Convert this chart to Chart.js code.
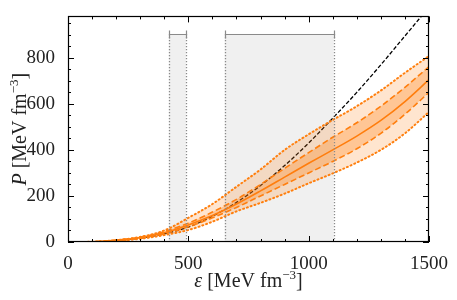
<!DOCTYPE html>
<html lang="en">
  <head>
    <meta charset="UTF-8" />
    <title>Pressure vs energy density</title>
    <script src="https://cdn.jsdelivr.net/npm/chart.js"></script>
    <style>
      body {
        margin: 0;
        background: #fff;
      }
      #wrap {
        width: 457px;
        height: 300px;
      }
    </style>
  </head>
  <body>
    <div id="wrap"><canvas id="eosChart" width="457" height="300"></canvas></div>

    <script>
      // energy density grid (MeV fm^-3)
      const energy = [0, 100, 200, 300, 400, 500, 600, 700, 800, 900, 1000, 1100, 1200, 1300, 1400, 1500];
      // pressure bands (MeV fm^-3)
      const upper95 = [0, 1, 8, 22, 50, 105, 165, 240, 315, 400, 468, 530, 590, 658, 735, 808];
      const upper68 = [0, 1, 8, 21, 45, 82, 130, 185, 250, 320, 388, 455, 518, 590, 672, 762];
      const median = [0, 1, 7, 19, 40, 74, 115, 165, 222, 282, 342, 400, 460, 528, 610, 705];
      const lower68 = [0, 1, 6, 17, 36, 66, 105, 150, 200, 250, 300, 350, 405, 472, 555, 650];
      const lower95 = [0, 0, 5, 14, 30, 52, 88, 133, 170, 210, 255, 298, 345, 400, 472, 565];
      // black dashed reference curve
      const blackCurve = [0, 0.5, 6, 17, 35, 65, 112, 172, 245, 332, 430, 538, 650, 770, 895, 1020];

      // shaded energy ranges with the bar on top
      const rangeStart = [419, 651];
      const rangeEnd = [490, 1104];
      const rangeTop = 904;

      const xTicks = [0, 500, 1000, 1500];
      const yTicks = [0, 200, 400, 600, 800];
      const xMinorStep = 100;
      const yMinorStep = 50;

      // axis titles: [text, style] pieces, "i" italic, "s" superscript
      const xTitle = [["ε", "i"], [" [MeV fm", ""], ["−3", "s"], ["]", ""]];
      const yTitle = [["P", "i"], [" [MeV fm", ""], ["−3", "s"], ["]", ""]];

      const orange = "#ff7f0e";
      const serif = "'Liberation Serif', 'DejaVu Serif', serif";

      const pts = (arr) => energy.map((e, i) => ({ x: e, y: arr[i] }));

      const rangesPlugin = {
        id: "ranges",
        beforeDatasetsDraw(chart) {
          const { ctx, scales } = chart;
          const { x, y } = scales;
          ctx.save();
          ctx.fillStyle = "#f0f0f0";
          rangeStart.forEach((s, i) => {
            const x0 = x.getPixelForValue(s);
            const x1 = x.getPixelForValue(rangeEnd[i]);
            const yt = y.getPixelForValue(rangeTop);
            const yb = y.getPixelForValue(0);
            ctx.fillRect(x0, yt, x1 - x0, yb - yt);
          });
          ctx.restore();
        },
        afterDatasetsDraw(chart) {
          const { ctx, scales } = chart;
          const { x, y } = scales;
          const yt = y.getPixelForValue(rangeTop);
          const yb = y.getPixelForValue(0);
          ctx.save();
          ctx.strokeStyle = "#8a8a8a";
          ctx.lineWidth = 1.3;
          ctx.setLineDash([1.3, 1.7]);
          rangeStart.forEach((s, i) => {
            [s, rangeEnd[i]].forEach((v) => {
              const px = Math.round(x.getPixelForValue(v)) + 0.5;
              ctx.beginPath();
              ctx.moveTo(px, yt);
              ctx.lineTo(px, yb);
              ctx.stroke();
            });
          });
          ctx.setLineDash([]);
          ctx.lineWidth = 1.2;
          const yy = Math.round(yt) + 0.5;
          rangeStart.forEach((s, i) => {
            const x0 = Math.round(x.getPixelForValue(s)) + 0.5;
            const x1 = Math.round(x.getPixelForValue(rangeEnd[i])) + 0.5;
            ctx.beginPath();
            ctx.moveTo(x0, yy);
            ctx.lineTo(x1, yy);
            ctx.moveTo(x0, yy - 4);
            ctx.lineTo(x0, yy + 4);
            ctx.moveTo(x1, yy - 4);
            ctx.lineTo(x1, yy + 4);
            ctx.stroke();
          });
          ctx.restore();
        },
      };

      function drawTitle(ctx, pieces, cx, baseline) {
        const fontOf = (st) =>
          st === "i" ? "italic 20px " + serif : st === "s" ? "13px " + serif : "20px " + serif;
        let total = 0;
        pieces.forEach(([t, st]) => {
          ctx.font = fontOf(st);
          total += ctx.measureText(t).width;
        });
        let px = cx - total / 2;
        pieces.forEach(([t, st]) => {
          ctx.font = fontOf(st);
          ctx.fillText(t, px, st === "s" ? baseline - 8 : baseline);
          px += ctx.measureText(t).width;
        });
      }

      const framePlugin = {
        id: "frame",
        afterDraw(chart) {
          const { ctx, chartArea: a, scales } = chart;
          const { x, y } = scales;
          ctx.save();
          ctx.strokeStyle = "#000";
          ctx.lineWidth = 1;
          const seg = (x0, y0, x1, y1) => {
            ctx.beginPath();
            ctx.moveTo(x0, y0);
            ctx.lineTo(x1, y1);
            ctx.stroke();
          };
          for (let v = x.min; v <= x.max; v += xMinorStep) {
            const px = Math.round(x.getPixelForValue(v)) + 0.5;
            const len = xTicks.includes(v) ? 6 : 3;
            seg(px, a.bottom, px, a.bottom - len);
            seg(px, a.top, px, a.top + len);
          }
          for (let v = y.min; v <= y.max; v += yMinorStep) {
            const py = Math.round(y.getPixelForValue(v)) + 0.5;
            const len = yTicks.includes(v) ? 6 : 3;
            seg(a.left, py, a.left + len, py);
            seg(a.right, py, a.right - len, py);
          }
          ctx.lineWidth = 1.2;
          ctx.strokeRect(
            Math.round(a.left) + 0.5,
            Math.round(a.top) + 0.5,
            Math.round(a.right - a.left) - 1,
            Math.round(a.bottom - a.top) - 1
          );

          // axis titles
          ctx.fillStyle = "#222";
          ctx.textAlign = "left";
          ctx.textBaseline = "alphabetic";
          drawTitle(ctx, xTitle, (a.left + a.right) / 2, 287);
          ctx.translate(26, (a.top + a.bottom) / 2);
          ctx.rotate(-Math.PI / 2);
          drawTitle(ctx, yTitle, 0, 0);
          ctx.restore();
        },
      };

      const ctx = document.getElementById("eosChart").getContext("2d");
      new Chart(ctx, {
        type: "line",
        data: {
          datasets: [
            {
              label: "95% lower",
              data: pts(lower95),
              borderColor: orange,
              borderWidth: 2,
              borderDash: [1, 3],
              borderCapStyle: "round",
              fill: false,
            },
            {
              label: "95% upper",
              data: pts(upper95),
              borderColor: orange,
              borderWidth: 2,
              borderDash: [1, 3],
              borderCapStyle: "round",
              backgroundColor: "rgba(255,127,14,0.2)",
              fill: "-1",
            },
            {
              label: "68% lower",
              data: pts(lower68),
              borderColor: orange,
              borderWidth: 1.6,
              borderDash: [6, 3],
              fill: false,
            },
            {
              label: "68% upper",
              data: pts(upper68),
              borderColor: orange,
              borderWidth: 1.6,
              borderDash: [6, 3],
              backgroundColor: "rgba(255,127,14,0.3)",
              fill: "-1",
            },
            {
              label: "median",
              data: pts(median),
              borderColor: orange,
              borderWidth: 1.6,
              fill: false,
            },
            {
              label: "reference",
              data: pts(blackCurve),
              borderColor: "#000",
              borderWidth: 1.3,
              borderDash: [4, 2],
              fill: false,
            },
          ],
        },
        options: {
          responsive: false,
          animation: false,
          layout: { padding: { top: 8, right: 28, left: 0, bottom: 0 } },
          elements: {
            point: { radius: 0 },
            line: { cubicInterpolationMode: "monotone" },
          },
          plugins: {
            legend: { display: false },
            tooltip: { enabled: false },
          },
          scales: {
            x: {
              type: "linear",
              min: 0,
              max: 1500,
              grid: { display: false },
              border: { display: false },
              afterBuildTicks: (s) => {
                s.ticks = xTicks.map((v) => ({ value: v }));
              },
              afterFit: (s) => {
                s.height = 58;
              },
              ticks: {
                padding: 3,
                color: "#222",
                font: { family: serif, size: 19 },
                callback: (v) => String(v),
              },
            },
            y: {
              type: "linear",
              min: 0,
              max: 980,
              grid: { display: false },
              border: { display: false },
              afterBuildTicks: (s) => {
                s.ticks = yTicks.map((v) => ({ value: v }));
              },
              afterFit: (s) => {
                s.width = 68;
              },
              ticks: {
                padding: 5,
                color: "#222",
                font: { family: serif, size: 19 },
                callback: (v) => String(v),
              },
            },
          },
        },
        plugins: [rangesPlugin, framePlugin],
      });
    </script>
  </body>
</html>
